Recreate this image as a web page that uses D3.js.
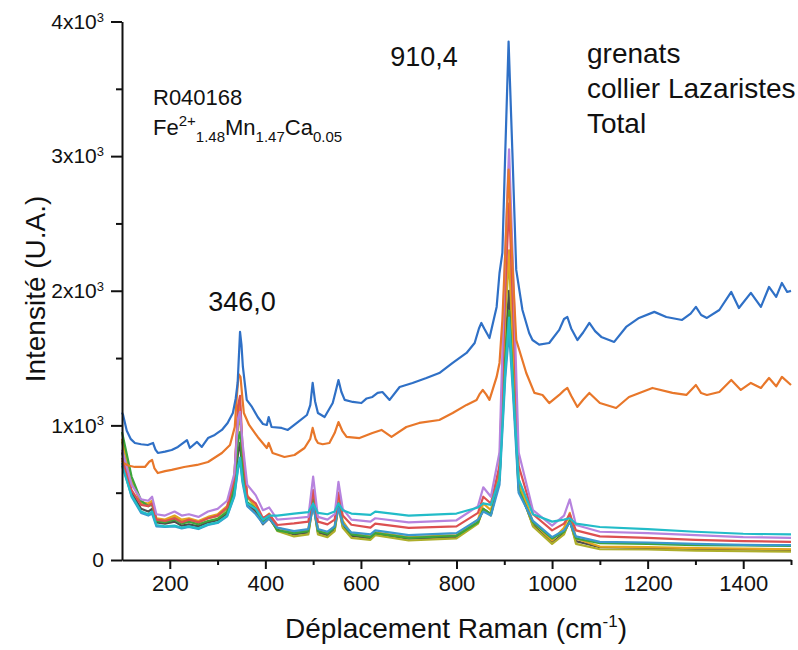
<!DOCTYPE html>
<html>
<head>
<meta charset="utf-8">
<style>
  body { margin: 0; background: #fff; }
  text { font-family: "Liberation Sans", Arial, sans-serif; fill: #111; }
  .axis path, .axis line { stroke: #111; stroke-width: 2; }
</style>
</head>
<body>
<div id="chart"></div>
<script src="https://d3js.org/d3.v7.min.js"></script>
<script>
// Raman shift grid shared by the lower group of spectra (cm-1)
var lowShift = [100,120,140,155,163,172,190,210,225,240,260,280,300,320,335,343,347,352,362,380,395,408,425,460,490,500,510,530,545,553,562,580,620,630,700,800,845,856,872,890,902,910,918,930,960,1000,1025,1037,1050,1100,1200,1300,1400,1500];

var cyanInt   = [700,480,360,340,360,260,250,255,240,250,235,265,280,330,480,700,760,600,420,380,300,330,330,345,355,420,350,340,360,420,370,345,335,360,330,345,390,420,410,600,1400,1800,1300,600,340,285,300,310,270,245,230,210,195,190];
var purpleInt = [820,560,450,440,470,340,330,360,330,340,320,360,380,440,640,1050,1100,880,560,480,370,390,300,310,320,620,320,300,340,580,380,300,285,310,280,295,400,540,470,800,2300,3050,2200,800,370,255,330,450,260,210,200,185,170,165];
var redInt    = [760,520,410,400,420,300,290,310,280,300,280,310,330,390,600,1150,1220,850,470,420,310,340,260,272,285,520,285,265,300,500,330,262,240,270,238,250,350,470,420,700,2000,2650,1900,700,340,220,270,340,220,175,165,150,140,135];
var greenInt  = [950,620,440,400,410,290,280,300,270,285,265,290,305,360,540,900,950,720,430,380,280,320,220,200,215,450,215,195,240,420,270,190,170,200,165,180,280,380,340,600,1500,1850,1350,520,280,160,210,290,160,125,120,110,108,105];
var oliveInt  = [880,590,420,410,430,300,290,320,290,300,280,310,325,380,580,1000,1060,800,470,390,280,330,215,175,190,430,190,170,215,400,240,165,150,185,145,160,270,380,330,620,1800,2250,1600,560,250,120,190,300,120,80,78,70,65,62];
var grayInt   = [800,500,380,360,380,280,270,285,255,265,250,280,295,345,500,800,870,650,420,360,265,310,225,190,205,420,205,185,225,400,250,180,160,195,158,172,280,380,340,600,1600,2000,1450,540,260,130,200,290,140,95,90,82,78,75];
var lblueInt  = [720,470,350,330,345,250,245,250,235,245,230,260,275,325,470,680,740,580,400,340,270,310,240,215,230,400,230,210,250,390,270,205,190,220,185,200,300,360,330,560,1350,1700,1250,500,290,170,220,280,175,135,130,120,112,110];
var yellowInt = [900,600,430,420,440,310,300,330,300,310,290,320,340,400,620,1100,1150,830,480,400,300,345,240,205,225,500,225,200,250,470,290,195,175,205,170,185,300,420,370,680,1900,2300,1650,600,280,145,240,350,160,100,95,88,84,80];

// upper two spectra: [shift, intensity]
var blueSpec = [[100,1095],[102,1080],[110,960],[118,900],[127,869],[140,860],[154,854],[165,869],[170,820],[175,795],[190,805],[204,817],[217,840],[236,891],[242,832],[257,877],[267,840],[280,906],[294,929],[309,966],[321,1018],[332,1092],[338,1200],[342,1315],[347,1694],[350,1600],[353,1434],[361,1189],[372,1137],[384,1062],[395,1010],[403,1003],[407,1062],[413,988],[434,981],[447,966],[466,1018],[487,1077],[494,1150],[499,1315],[504,1180],[510,1092],[524,1062],[541,1166],[547,1250],[553,1337],[559,1250],[566,1189],[583,1174],[601,1166],[612,1200],[624,1211],[635,1241],[645,1248],[660,1189],[681,1285],[708,1315],[737,1352],[764,1389],[792,1464],[821,1538],[838,1612],[847,1720],[852,1761],[858,1720],[869,1649],[884,1880],[890,2132],[896,2281],[902,3024],[909,3851],[917,3024],[925,2155],[938,1857],[952,1686],[959,1634],[973,1600],[994,1612],[1015,1709],[1025,1790],[1032,1805],[1040,1720],[1053,1634],[1065,1690],[1078,1761],[1090,1700],[1103,1657],[1130,1620],[1155,1731],[1182,1798],[1214,1843],[1239,1805],[1272,1783],[1290,1830],[1301,1880],[1312,1820],[1324,1798],[1350,1857],[1375,1991],[1391,1872],[1416,1984],[1437,1880],[1454,2028],[1469,1954],[1481,2058],[1492,1991],[1500,1999]];
var orangeSpec = [[100,740],[102,721],[115,700],[127,691],[148,691],[157,730],[163,743],[168,680],[175,646],[190,660],[204,669],[230,691],[257,706],[280,728],[309,795],[326,854],[336,988],[340,1200],[344,1380],[348,1360],[352,1200],[355,1092],[366,1003],[384,914],[403,832],[407,869],[415,795],[440,765],[461,780],[482,832],[494,900],[499,981],[505,900],[510,869],[520,860],[534,869],[545,943],[553,1025],[561,960],[570,914],[597,906],[624,943],[643,966],[664,914],[695,988],[722,1018],[764,1040],[792,1092],[821,1152],[842,1189],[848,1230],[855,1263],[862,1230],[869,1189],[884,1360],[890,1464],[896,1783],[902,2281],[909,2900],[916,2281],[925,1634],[946,1389],[963,1241],[980,1226],[994,1166],[1015,1226],[1025,1260],[1032,1278],[1040,1220],[1053,1137],[1065,1190],[1078,1241],[1100,1166],[1134,1129],[1161,1211],[1210,1278],[1252,1241],[1281,1226],[1301,1300],[1312,1240],[1324,1226],[1350,1248],[1375,1337],[1395,1263],[1416,1315],[1437,1278],[1454,1352],[1469,1290],[1481,1360],[1500,1300]];

var yTicks = [0,1000,2000,3000,4000];
var yMinor = [500,1500,2500,3500];
var xTicks = [200,400,600,800,1000,1200,1400];
var xMinor = [300,500,700,900,1100,1300,1500];

var width = 798, height = 650;
var svg = d3.select("#chart").append("svg")
    .attr("width", width)
    .attr("height", height);

var x = d3.scaleLinear().domain([100,1500]).range([122,791]);
var y = d3.scaleLinear().domain([0,4000]).range([560,21.5]);

var line = d3.line()
    .x(function(d) { return x(d[0]); })
    .y(function(d) { return y(d[1]); });

// lower group, drawn back to front
var lowSeries = [
  {vals: grayInt,   color: "#4d4d4d"},
  {vals: oliveInt,  color: "#aeae2a"},
  {vals: yellowInt, color: "#e3a51f"},
  {vals: greenInt,  color: "#3ca53c"},
  {vals: lblueInt,  color: "#3b97cf"},
  {vals: redInt,    color: "#dc5050"},
  {vals: purpleInt, color: "#b683de"},
  {vals: cyanInt,   color: "#22bcc8"}
];

var plot = svg.append("g");
lowSeries.forEach(function(s) {
  var pts = lowShift.map(function(v, i) { return [v, s.vals[i]]; });
  plot.append("path")
      .datum(pts)
      .attr("fill", "none")
      .attr("stroke", s.color)
      .attr("stroke-width", 2.2)
      .attr("stroke-linejoin", "round")
      .attr("d", line);
});

plot.append("path").datum(orangeSpec)
    .attr("fill", "none").attr("stroke", "#e8772a").attr("stroke-width", 2.2)
    .attr("stroke-linejoin", "round").attr("d", line);
plot.append("path").datum(blueSpec)
    .attr("fill", "none").attr("stroke", "#2f70c6").attr("stroke-width", 2.2)
    .attr("stroke-linejoin", "round").attr("d", line);

// y axis
var yAxis = svg.append("g").attr("class", "axis")
    .attr("transform", "translate(122,0)")
    .call(d3.axisLeft(y).tickValues(yTicks).tickSize(11).tickPadding(7).tickSizeOuter(0));
yAxis.selectAll(".tick text").each(function(d) {
  var t = d3.select(this).text(null).style("font-size", "21px");
  if (d === 0) { t.text("0"); return; }
  t.append("tspan").text((d / 1000) + "x10");
  t.append("tspan").attr("dy", "-0.55em").style("font-size", "13px").text("3");
});
svg.append("g").attr("class", "axis")
    .attr("transform", "translate(122,0)")
    .call(d3.axisLeft(y).tickValues(yMinor).tickSize(6).tickFormat("").tickSizeOuter(0))
    .select(".domain").remove();

// x axis
var xAxis = svg.append("g").attr("class", "axis")
    .attr("transform", "translate(0,560)")
    .call(d3.axisBottom(x).tickValues(xTicks).tickFormat(d3.format("d"))
      .tickSize(9).tickPadding(6).tickSizeOuter(0));
xAxis.selectAll(".tick text").style("font-size", "22px");
svg.append("g").attr("class", "axis")
    .attr("transform", "translate(0,560)")
    .call(d3.axisBottom(x).tickValues(xMinor).tickSize(5).tickFormat("").tickSizeOuter(0))
    .select(".domain").remove();

// axis titles
var xt = svg.append("text")
    .attr("x", 456).attr("y", 638)
    .attr("text-anchor", "middle")
    .style("font-size", "28px");
xt.append("tspan").text("Déplacement Raman (cm");
xt.append("tspan").attr("dy", -11).style("font-size", "17px").text("-1");
xt.append("tspan").attr("dy", 11).text(")");

svg.append("text")
    .attr("transform", "translate(45,289) rotate(-90)")
    .attr("text-anchor", "middle")
    .style("font-size", "28px")
    .text("Intensité (U.A.)");

// peak labels
svg.append("text").attr("x", 242).attr("y", 311).attr("text-anchor", "middle")
    .style("font-size", "27px").text("346,0");
svg.append("text").attr("x", 424).attr("y", 66).attr("text-anchor", "middle")
    .style("font-size", "27px").text("910,4");

// sample description
var desc = ["grenats", "collier Lazaristes", "Total"];
desc.forEach(function(s, i) {
  svg.append("text").attr("x", 587).attr("y", 63 + i * 35)
      .style("font-size", "28px").text(s);
});

svg.append("text").attr("x", 153).attr("y", 105)
    .style("font-size", "22px").text("R040168");

var formula = svg.append("text").attr("x", 153).attr("y", 135).style("font-size", "22px");
formula.append("tspan").text("Fe");
formula.append("tspan").attr("dy", -9).style("font-size", "15px").text("2+");
formula.append("tspan").attr("dy", 16).style("font-size", "15px").text("1.48");
formula.append("tspan").attr("dy", -7).text("Mn");
formula.append("tspan").attr("dy", 7).style("font-size", "15px").text("1.47");
formula.append("tspan").attr("dy", -7).text("Ca");
formula.append("tspan").attr("dy", 7).style("font-size", "15px").text("0.05");
</script>
</body>
</html>
